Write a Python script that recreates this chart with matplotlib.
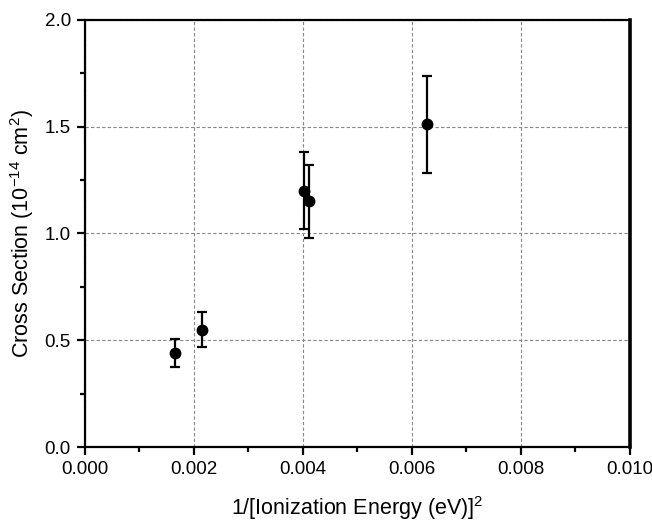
import matplotlib.pyplot as plt
from matplotlib.ticker import MultipleLocator

# values
energy_inv_sq = [0.00165, 0.00216, 0.00402, 0.00412, 0.00628]
cross_section = [0.44, 0.55, 1.20, 1.15, 1.51]
cross_err = [0.067, 0.083, 0.18, 0.17, 0.227]

x_ticks = [0.000, 0.002, 0.004, 0.006, 0.008, 0.010]
y_ticks = [0.0, 0.5, 1.0, 1.5, 2.0]


def main():
    plt.rcParams['font.family'] = ['Liberation Sans', 'DejaVu Sans']
    plt.rcParams['mathtext.default'] = 'regular'

    fig = plt.figure(figsize=(6.52, 5.21), dpi=100)
    ax = fig.add_axes([0.130, 0.142, 0.836, 0.820])

    ax.errorbar(energy_inv_sq, cross_section, yerr=cross_err,
                fmt='o', color='black', markersize=7.5,
                elinewidth=1.6, capsize=3.5, capthick=1.6, zorder=3)

    ax.set_xlim(0, 0.010)
    ax.set_ylim(0, 2.0)
    ax.set_xticks(x_ticks)
    ax.set_xticklabels([f"{v:.3f}" for v in x_ticks])
    ax.set_yticks(y_ticks)
    ax.set_yticklabels([f"{v:.1f}" for v in y_ticks])
    ax.xaxis.set_minor_locator(MultipleLocator(0.001))
    ax.yaxis.set_minor_locator(MultipleLocator(0.25))

    ax.tick_params(which='major', direction='out', length=6, width=1.6,
                   labelsize=13.5, pad=4)
    ax.tick_params(which='minor', direction='out', length=3.5, width=1.6)

    ax.grid(True, which='major', color='#888888', linestyle='--',
            linewidth=0.8, dashes=(3, 2))

    for side, spine in ax.spines.items():
        spine.set_linewidth(2.6 if side == 'right' else 1.6)

    ax.set_xlabel("1/[Ionization Energy (eV)]$^2$", fontsize=15.5, labelpad=12)
    ax.set_ylabel("Cross Section (10$^{-14}$ cm$^2$)", fontsize=15.5,
                  labelpad=6)

    fig.savefig("out.png", dpi=100)


if __name__ == "__main__":
    main()
